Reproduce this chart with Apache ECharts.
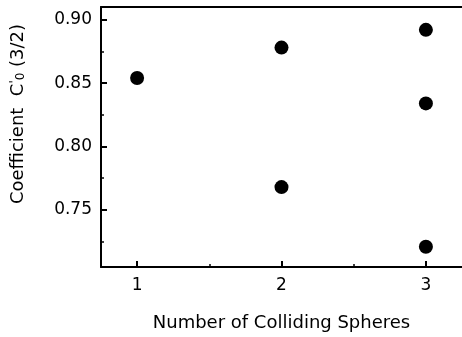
<!DOCTYPE html>
<html>
<head>
<meta charset="utf-8">
<script src="https://cdn.jsdelivr.net/npm/echarts@6/dist/echarts.min.js"></script>
<style>
  html, body { margin: 0; padding: 0; background: #fff; }
  #chart { width: 462px; height: 337px; }
</style>
</head>
<body>
<div id="chart"></div>
<script>
// data
var spheres = [1, 2, 2, 3, 3, 3];
var coeff = [0.854, 0.878, 0.768, 0.892, 0.834, 0.721];

var xMajor = [1, 2, 3];
var xMinor = [1.5, 2.5];
var yMajor = [0.75, 0.80, 0.85, 0.90];
var yMinor = [0.725, 0.775, 0.825, 0.875];

var font = 'DejaVu Sans, Arial, sans-serif';

var points = [];
for (var i = 0; i < spheres.length; i++) {
  points.push([spheres[i], coeff[i]]);
}

var chart = echarts.init(document.getElementById('chart'), null, { renderer: 'canvas' });

var option = {
  animation: false,
  grid: { left: 101, right: -2, top: 7, bottom: 70 },
  xAxis: [{
    type: 'value', min: 0.75, max: 3.25, position: 'bottom',
    name: 'Number of Colliding Spheres',
    nameLocation: 'middle', nameGap: 47,
    nameTextStyle: { fontFamily: font, fontSize: 18, color: '#000' },
    axisLine: { show: true, lineStyle: { color: '#000', width: 2 } },
    axisTick: { show: true, inside: true, length: 6, customValues: xMajor, lineStyle: { color: '#000', width: 2 } },
    axisLabel: { customValues: xMajor, margin: 10, fontFamily: font, fontSize: 17, color: '#000' },
    splitLine: { show: false }
  }, {
    // minor ticks only
    type: 'value', min: 0.75, max: 3.25, position: 'bottom',
    axisLine: { show: false },
    axisTick: { show: true, inside: true, length: 3, customValues: xMinor, lineStyle: { color: '#000', width: 1.5 } },
    axisLabel: { show: false },
    splitLine: { show: false }
  }, {
    // top frame line
    type: 'value', min: 0.75, max: 3.25, position: 'top',
    axisLine: { show: true, lineStyle: { color: '#000', width: 2 } },
    axisTick: { show: false },
    axisLabel: { show: false },
    splitLine: { show: false }
  }],
  yAxis: [{
    type: 'value', min: 0.705, max: 0.91, position: 'left',
    name: 'Coefficient  C{p|\'}{s|0} (3/2)',
    nameLocation: 'middle', nameGap: 74, nameRotate: 90,
    nameTextStyle: {
      fontFamily: font, fontSize: 18, color: '#000',
      padding: [0, 0, 0, 46],
      rich: {
        p: { fontFamily: font, fontSize: 12, color: '#000', verticalAlign: 'top', padding: [0, 0, 6, 0] },
        s: { fontFamily: font, fontSize: 12, color: '#000', verticalAlign: 'bottom', padding: [6, 0, 0, 0] }
      }
    },
    axisLine: { show: true, lineStyle: { color: '#000', width: 2 } },
    axisTick: { show: true, inside: true, length: 6, customValues: yMajor, lineStyle: { color: '#000', width: 2 } },
    axisLabel: {
      customValues: yMajor, margin: 9, fontFamily: font, fontSize: 17, color: '#000',
      formatter: function (v) { return v.toFixed(2); }
    },
    splitLine: { show: false }
  }, {
    type: 'value', min: 0.705, max: 0.91, position: 'left',
    axisLine: { show: false },
    axisTick: { show: true, inside: true, length: 3, customValues: yMinor, lineStyle: { color: '#000', width: 1.5 } },
    axisLabel: { show: false },
    splitLine: { show: false }
  }],
  series: [{
    type: 'scatter',
    xAxisIndex: 0, yAxisIndex: 0,
    symbol: 'circle', symbolSize: 14,
    itemStyle: { color: '#000', opacity: 1 },
    data: points
  }]
};

chart.setOption(option);
</script>
</body>
</html>
